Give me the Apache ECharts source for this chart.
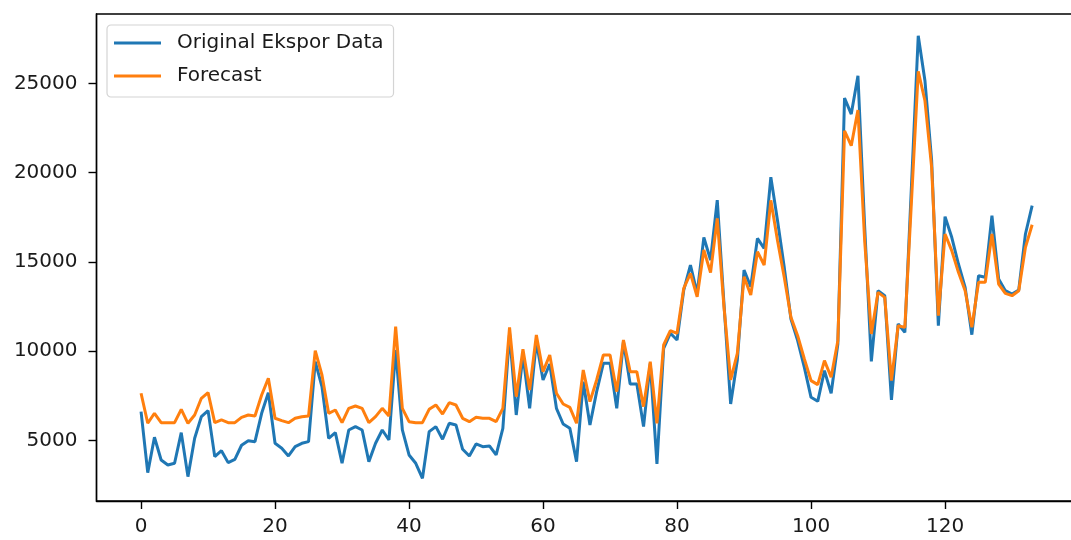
<!DOCTYPE html>
<html>
<head>
<meta charset="utf-8">
<script src="https://cdn.jsdelivr.net/npm/echarts@6/dist/echarts.min.js"></script>
<style>html,body{margin:0;padding:0;background:#fff;overflow:hidden;}#c{width:1071px;height:540px;}</style>
</head>
<body>
<div id="c"></div>
<script>
const original = [6620, 3207, 5186, 3917, 3637, 3730, 5447, 2984, 5130, 6342, 6677, 4103, 4438, 3768, 3955, 4740, 4998, 4940, 6530, 7685,
4850, 4570, 4141, 4663, 4850, 4943, 9420, 8020, 5130, 5447, 3730, 5596, 5783, 5596, 3824, 4850, 5596, 5036, 10073, 5596,
4197, 3730, 2890, 5503, 5783, 5074, 5970, 5876, 4514, 4141, 4813, 4663, 4700, 4197, 5690, 11007, 6435, 9793, 6808, 10540,
8394, 9289, 6808, 5932, 5690, 3824, 8300, 5876, 7741, 9327, 9327, 6808, 10540, 8170, 8170, 5783, 9327, 3693, 10166, 11007,
10632, 13430, 14829, 13245, 16380, 15109, 18466, 12685, 7051, 9513, 14549, 13615, 16320, 15762, 19750, 17310, 14700, 11807, 10595, 9103,
7424, 7200, 8916, 7648, 10408, 24175, 23279, 25425, 17000, 9439, 13393, 13113, 7275, 11528, 11060, 19362, 27665, 25145, 20668, 11432,
17533, 16380, 14885, 13578, 10930, 14232, 14140, 17590, 14046, 13393, 13207, 13430, 16565, 18150];

const forecast = [7650, 5970, 6530, 6005, 6005, 6005, 6752, 5970, 6435, 7370, 7685, 6005, 6155, 6005, 6005, 6305, 6435, 6380, 7555, 8487,
6250, 6117, 6005, 6250, 6340, 6380, 10035, 8674, 6530, 6715, 6005, 6808, 6939, 6808, 6005, 6340, 6808, 6380, 11377, 6808,
6062, 6005, 6005, 6752, 6995, 6491, 7125, 6995, 6250, 6062, 6305, 6250, 6250, 6062, 6808, 11340, 7460, 10110, 7834, 10912,
8860, 9793, 7650, 7051, 6865, 5970, 8954, 7181, 8394, 9793, 9793, 7741, 10632, 8860, 8860, 6902, 9420, 5970, 10352, 11153,
11007, 13525, 14362, 13055, 15669, 14400, 17440, 12500, 8394, 9887, 14175, 13150, 15575, 14829, 18450, 16190, 14140, 11900, 10875, 9570,
8357, 8133, 9476, 8544, 10595, 22345, 21506, 23503, 16200, 10968, 13300, 13020, 8357, 11430, 11340, 18490, 25668, 24025, 20295, 11992,
16565, 15633, 14420, 13393, 11340, 13860, 13860, 16565, 13766, 13245, 13113, 13393, 15820, 17085];

const xTicks = [0, 20, 40, 60, 80, 100, 120];
const yTicks = [5000, 10000, 15000, 20000, 25000];
const seriesNames = ['Original Ekspor Data', 'Forecast'];

const idx = original.map((_, i) => i);
const font = 'DejaVu Sans';
const chart = echarts.init(document.getElementById('c'), null, {renderer: 'canvas'});
chart.setOption({
  animation: false,
  backgroundColor: '#fff',
  textStyle: {fontFamily: font},
  grid: {left: 96.5, top: 14, bottom: 39, width: 980.2, outerBoundsMode: 'none', containLabel: false,
    show: true, borderColor: '#000', borderWidth: 1.4, backgroundColor: 'transparent'},
  legend: {
    left: 107, top: 25, orient: 'vertical',
    data: seriesNames,
    icon: 'rect', itemWidth: 47, itemHeight: 2.8, itemGap: 9,
    padding: [6, 10, 9, 7],
    backgroundColor: '#fff', borderColor: '#d4d4d4', borderWidth: 1.2, borderRadius: 4,
    textStyle: {fontFamily: font, fontSize: 20, color: '#1a1a1a', lineHeight: 24, padding: [0, 0, 0, 11]}
  },
  xAxis: {
    type: 'value', min: -6.65, max: 139.65,
    splitLine: {show: false},
    axisLine: {show: true, onZero: false, lineStyle: {color: '#000', width: 1.4}},
    axisTick: {show: true, length: 8, customValues: xTicks, lineStyle: {color: '#000', width: 1.4}},
    axisLabel: {customValues: xTicks, margin: 16, fontSize: 20, color: '#1a1a1a', fontFamily: font,
      formatter: v => String(v)}
  },
  yAxis: {
    type: 'value', min: 1620, max: 28880,
    splitLine: {show: false},
    axisLine: {show: true, onZero: false, lineStyle: {color: '#000', width: 1.4}},
    axisTick: {show: true, length: 8, customValues: yTicks, lineStyle: {color: '#000', width: 1.4}},
    axisLabel: {customValues: yTicks, margin: 19, fontSize: 20, color: '#1a1a1a', fontFamily: font,
      formatter: v => String(v)}
  },
  series: [
    {name: seriesNames[0], type: 'line', symbol: 'none', data: idx.map(i => [i, original[i]]),
     lineStyle: {color: '#1f77b4', width: 3}, itemStyle: {color: '#1f77b4'}},
    {name: seriesNames[1], type: 'line', symbol: 'none', data: idx.map(i => [i, forecast[i]]),
     lineStyle: {color: '#ff7f0e', width: 3}, itemStyle: {color: '#ff7f0e'}}
  ]
});
</script>
</body>
</html>
